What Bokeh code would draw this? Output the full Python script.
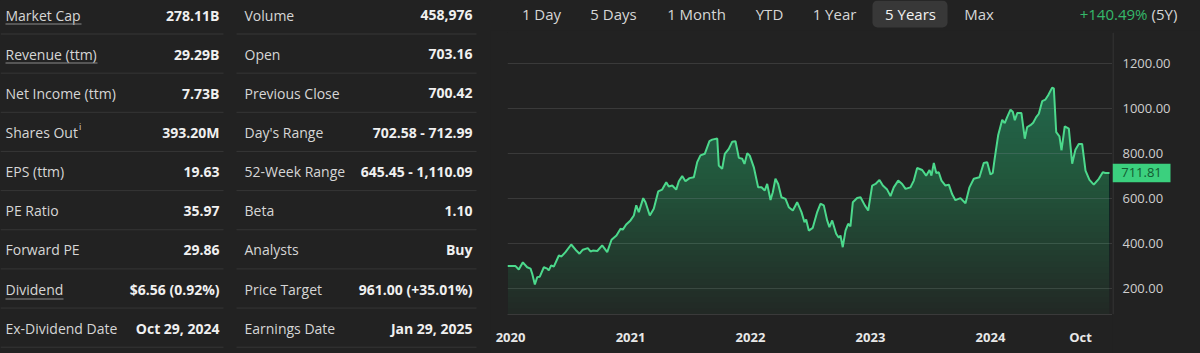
import numpy as np
from bokeh.plotting import figure
from bokeh.layouts import row, column
from bokeh.models import Range1d, FixedTicker
from bokeh.core.properties import value
from bokeh.embed import file_html
from bokeh.resources import INLINE

# ---------------- data ----------------
stat_labels_1 = ["Market Cap", "Revenue (ttm)", "Net Income (ttm)", "Shares Out", "EPS (ttm)",
                 "PE Ratio", "Forward PE", "Dividend", "Ex-Dividend Date"]
stat_values_1 = ["278.11B", "29.29B", "7.73B", "393.20M", "19.63",
                 "35.97", "29.86", "$6.56 (0.92%)", "Oct 29, 2024"]
stat_labels_2 = ["Volume", "Open", "Previous Close", "Day's Range", "52-Week Range",
                 "Beta", "Analysts", "Price Target", "Earnings Date"]
stat_values_2 = ["458,976", "703.16", "700.42", "702.58 - 712.99", "645.45 - 1,110.09",
                 "1.10", "Buy", "961.00 (+35.01%)", "Jan 29, 2025"]

range_buttons = ["1 Day", "5 Days", "1 Month", "YTD", "1 Year", "5 Years", "Max"]
active_button = "5 Years"
change_text = "+140.49%"
change_period = "(5Y)"
last_price = 711.81

# decimal-year dates and closing prices
dates = [2019.975, 2020.042, 2020.069, 2020.103, 2020.139, 2020.167, 2020.181, 2020.203, 2020.223, 2020.244,
         2020.278, 2020.306, 2020.319, 2020.339, 2020.361, 2020.403, 2020.425, 2020.458, 2020.506, 2020.542,
         2020.575, 2020.603, 2020.644, 2020.667, 2020.686, 2020.723, 2020.764, 2020.806, 2020.842, 2020.883,
         2020.917, 2020.936, 2020.964, 2021.000, 2021.028, 2021.048, 2021.069, 2021.106, 2021.125, 2021.161,
         2021.194, 2021.231, 2021.264, 2021.298, 2021.319, 2021.348, 2021.381, 2021.403, 2021.431, 2021.458,
         2021.492, 2021.528, 2021.556, 2021.583, 2021.619, 2021.658, 2021.681, 2021.723, 2021.736, 2021.764,
         2021.786, 2021.819, 2021.848, 2021.875, 2021.903, 2021.931, 2021.950, 2021.973, 2021.994, 2022.028,
         2022.064, 2022.092, 2022.119, 2022.139, 2022.167, 2022.186, 2022.208, 2022.231, 2022.258, 2022.292,
         2022.319, 2022.353, 2022.389, 2022.425, 2022.450, 2022.464, 2022.486, 2022.519, 2022.556, 2022.583,
         2022.611, 2022.639, 2022.658, 2022.681, 2022.714, 2022.736, 2022.750, 2022.769, 2022.792, 2022.814,
         2022.833, 2022.853, 2022.889, 2022.917, 2022.953, 2022.981, 2023.014, 2023.042, 2023.075, 2023.103,
         2023.139, 2023.167, 2023.194, 2023.231, 2023.264, 2023.292, 2023.333, 2023.361, 2023.389, 2023.431,
         2023.464, 2023.492, 2023.508, 2023.528, 2023.548, 2023.569, 2023.592, 2023.625, 2023.653, 2023.681,
         2023.708, 2023.750, 2023.792, 2023.825, 2023.861, 2023.908, 2023.944, 2023.973, 2024.000, 2024.019,
         2024.036, 2024.064, 2024.098, 2024.119, 2024.139, 2024.167, 2024.186, 2024.203, 2024.223, 2024.258,
         2024.286, 2024.306, 2024.333, 2024.356, 2024.381, 2024.403, 2024.431, 2024.458, 2024.481, 2024.514,
         2024.528, 2024.548, 2024.575, 2024.592, 2024.619, 2024.653, 2024.681, 2024.708, 2024.736, 2024.764,
         2024.792, 2024.825, 2024.861, 2024.903, 2024.936, 2024.958, 2024.992]
prices = [298, 298, 283, 315, 293, 287, 264, 216, 249, 251,
          293, 287, 279, 301, 296, 345, 341, 360, 394, 371,
          353, 371, 378, 363, 367, 365, 390, 360, 415, 434,
          464, 460, 483, 501, 523, 568, 538, 600, 582, 523,
          553, 630, 638, 671, 652, 656, 638, 675, 698, 675,
          689, 693, 760, 790, 797, 853, 860, 865, 745, 730,
          797, 819, 851, 853, 779, 775, 752, 800, 789, 737,
          648, 648, 634, 663, 592, 626, 686, 663, 604, 597,
          560, 545, 582, 538, 493, 505, 456, 468, 538, 575,
          568, 501, 471, 501, 442, 424, 434, 382, 456, 486,
          475, 582, 601, 604, 568, 545, 656, 663, 681, 656,
          638, 609, 648, 678, 663, 641, 648, 678, 734, 725,
          700, 725, 700, 756, 712, 715, 678, 656, 660, 617,
          591, 600, 577, 648, 686, 693, 756, 760, 705, 712,
          779, 879, 948, 933, 960, 993, 984, 946, 978, 978,
          864, 916, 924, 935, 960, 975, 1031, 1038, 1057, 1091,
          1088, 893, 874, 812, 919, 909, 753, 815, 841, 841,
          722, 681, 660, 686, 715, 712, 711.81]

x_tick_values = [2020, 2021, 2022, 2023, 2024, 2024.75]
x_tick_labels = ["2020", "2021", "2022", "2023", "2024", "Oct"]
y_tick_values = [200, 400, 600, 800, 1000, 1200]

# ---------------- styling ----------------
BG = "#222222"
SEP = "#363636"
FRAME = "#3a3a3a"
FONT = "Open Sans"
LINE_GREEN = "#4cd98c"
TXT = "#d6d6d6"
VAL = "#f0f0f0"


def blank_fig(w, h, xr, yr, **kw):
    f = figure(width=w, height=h, x_range=xr, y_range=yr,
               x_axis_location=None, y_axis_location=None,
               output_backend="svg", toolbar_location=None, frame_align=False, **kw)
    f.grid.visible = False
    f.outline_line_color = None
    f.background_fill_color = BG
    f.border_fill_color = BG
    return f


# ---------------- left stats panel ----------------
left = blank_fig(490, 353, Range1d(0, 490), Range1d(353, 0), min_border=0)

n = len(stat_labels_1)
row_h = 39.15
row_y = [14.5 + row_h * i for i in range(n)]
sep_y = [33.5 + row_h * i for i in range(n)]

for (lab, val, x_lab, x_val, x0, x1) in [
        (stat_labels_1, stat_values_1, 5, 219, 0, 223),
        (stat_labels_2, stat_values_2, 244, 472, 236, 476)]:
    left.segment(x0=[x0] * n, x1=[x1] * n, y0=sep_y, y1=sep_y, line_color=SEP, line_width=1)
    left.text(x=[x_lab] * n, y=row_y, text=lab, text_font=value(FONT), text_font_size="14px",
              text_color=TXT, text_baseline="middle", text_align="left")
    left.text(x=[x_val] * n, y=row_y, text=val, text_font=value(FONT), text_font_size="14px",
              text_font_style="bold", text_color=VAL, text_baseline="middle", text_align="right")

left.segment(x0=[5, 5, 5], x1=[81, 97, 63], y0=[23.5, 62.5, 298.5], y1=[23.5, 62.5, 298.5],
             line_color="#8a8a8a", line_width=1)
left.text(x=[78.5], y=[126], text=["i"], text_font=value(FONT), text_font_size="9px",
          text_color=TXT, text_baseline="middle", text_align="left")

# ---------------- top range bar ----------------
top = blank_fig(710, 30, Range1d(490, 1200), Range1d(30, 0), min_border=0)

btn_x = [541, 613, 696, 769, 834, 910, 978.5]
ai = range_buttons.index(active_button)
top.quad(left=[btn_x[ai] - 38], right=[btn_x[ai] + 37], top=[0], bottom=[27],
         fill_color="#383838", line_color=None, border_radius=5)
top.text(x=btn_x, y=[13.5] * len(btn_x), text=range_buttons, text_font=value(FONT),
         text_font_size="15px", text_color=["#f2f2f2" if b == active_button else TXT for b in range_buttons],
         text_baseline="middle", text_align="center")
top.text(x=[1147], y=[13.5], text=[change_text], text_font=value(FONT), text_font_size="15px",
         text_color="#35b86a", text_baseline="middle", text_align="right")
top.text(x=[1151], y=[13.5], text=[change_period], text_font=value(FONT), text_font_size="15px",
         text_color=TXT, text_baseline="middle", text_align="left")

# ---------------- price chart ----------------
t = np.array(dates)
p_arr = np.array(prices, dtype=float)
y_lo, y_hi = 83, 1336
frame_h = 282
yr = Range1d(y_lo, y_hi)

chart = figure(width=622, height=323, x_range=Range1d(2019.975, 2025.017), y_range=yr,
               y_axis_location=None, min_border_left=17, min_border_right=0,
               min_border_top=2, min_border_bottom=39, frame_align=False,
               output_backend="svg", toolbar_location=None)
chart.background_fill_color = BG
chart.border_fill_color = BG
chart.outline_line_color = None
chart.xgrid.visible = False
chart.ygrid.ticker = FixedTicker(ticks=y_tick_values)
chart.ygrid.grid_line_color = FRAME
chart.ygrid.grid_line_width = 1

# gradient-like fill: stacked translucent layers
chart.varea(x=t, y1=y_lo, y2=p_arr, fill_color=LINE_GREEN, fill_alpha=0.03)
for L in np.linspace(y_lo, 1100, 40):
    chart.varea(x=t, y1=L, y2=np.maximum(p_arr, L), fill_color=LINE_GREEN, fill_alpha=0.011)
chart.line(t, p_arr, line_color=LINE_GREEN, line_width=2)

xax = chart.xaxis[0]
xax.ticker = FixedTicker(ticks=x_tick_values)
xax.major_label_overrides = {v: s for v, s in zip(x_tick_values, x_tick_labels)}
xax.major_label_text_font = FONT
xax.major_label_text_font_size = "13px"
xax.major_label_text_font_style = "bold"
xax.major_label_text_color = "#e8e8e8"
xax.axis_line_color = FRAME
xax.major_tick_line_color = None
xax.minor_tick_line_color = None
xax.major_label_standoff = 7

# price scale on the right, sharing the chart's y scale
side = blank_fig(88, 323, Range1d(0, 88), yr, min_border_left=0, min_border_right=0,
                 min_border_top=2, min_border_bottom=39)
side.segment(x0=[0.5], x1=[0.5], y0=[y_lo], y1=[y_hi], line_color=FRAME, line_width=1)
side.text(x=[10] * len(y_tick_values), y=y_tick_values, text=[f"{v:.2f}" for v in y_tick_values],
          text_font=value(FONT), text_font_size="13px", text_color="#cfcfcf",
          text_baseline="middle", text_align="left")
upp = (y_hi - y_lo) / frame_h
side.quad(left=[0], right=[58], top=[last_price + 9.2 * upp], bottom=[last_price - 9.2 * upp],
          fill_color="#3bd07e", line_color=None)
side.text(x=[29], y=[last_price], text=[f"{last_price:.2f}"], text_font=value(FONT),
          text_font_size="13px", text_color="#135a31", text_baseline="middle", text_align="center")

bg_style = {"background-color": BG}
layout = row(left, column(top, row(chart, side, styles=bg_style), styles=bg_style), styles=bg_style)
open("out.html", "w").write(file_html(layout, INLINE))
